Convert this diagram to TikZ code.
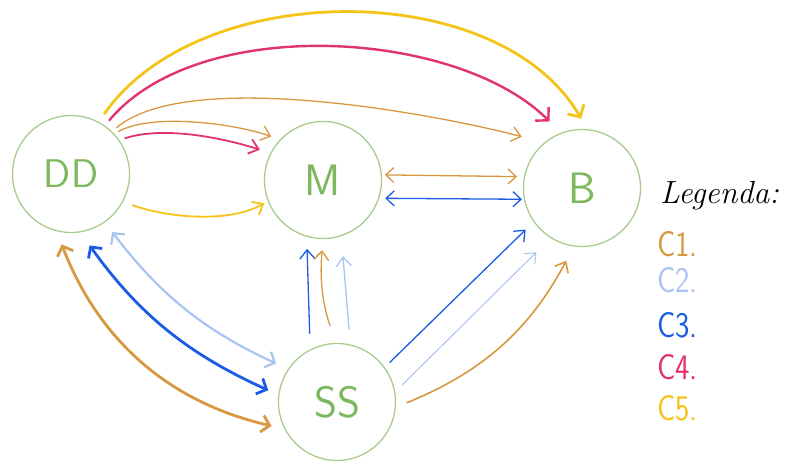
\documentclass[tikz,border=0pt]{standalone}
\usepackage{fontspec}
\usetikzlibrary{arrows.meta}
\definecolor{cgreen}{HTML}{A8CC90}
\definecolor{tgreen}{HTML}{7DB85E}
\definecolor{corange}{HTML}{D7983F}
\definecolor{clblue}{HTML}{A9C4F2}
\definecolor{cblue}{HTML}{1A5CE6}
\definecolor{cpink}{HTML}{E0336F}
\definecolor{cyellow}{HTML}{F4C418}
\tikzset{
  place/.style={circle, draw=cgreen, line width=1.3pt, minimum size=117pt, inner sep=0pt,
     text=tgreen, font=\sffamily\fontsize{44}{44}\selectfont},
  conn/.style={line cap=round, line join=round, line width=1.3pt},
  fat/.style={line cap=round, line join=round, line width=2.8pt},
  tipS/.style={-{Straight Barb[length=9pt,width=15pt]}},
  tipL/.style={-{Straight Barb[length=9pt,width=19pt]}},
  dblS/.style={{Straight Barb[length=8pt,width=15pt]}-{Straight Barb[length=8pt,width=15pt]}},
  dblL/.style={{Straight Barb[length=8pt,width=17pt]}-{Straight Barb[length=8pt,width=17pt]}},
  legtxt/.style={anchor=west, font=\sffamily\fontsize{36}{36}\selectfont, inner sep=0pt, xscale=0.85}
}
\begin{document}
\begin{tikzpicture}[x=1pt,y=1pt]
\useasboundingbox[fill=white] (0,0) rectangle (796,-462);
% places
\node[place, font=\sffamily\fontsize{40}{40}\selectfont] (DD) at (71,-174) {DD};
\node[place] (M) at (323,-180) {M};
\node[place] (B) at (582,-188) {B};
\node[place] (SS) at (337,-402) {SS};

% top arcs from DD
\draw[fat, cyellow, tipL, shorten <=10pt, shorten >=12pt] (DD.62) to[out=55, in=120, looseness=0.92] (B.85);
\draw[fat, cpink, tipL, line width=2.4pt, shorten <=7pt, shorten >=16pt] (DD.55) to[out=50, in=135, looseness=0.82] (B.111);
\draw[conn, corange, tipS, shorten <=6pt, shorten >=23pt] (DD.46) to[out=40, in=165, looseness=0.6] (B.130);
\draw[conn, corange, tipS, shorten <=5pt, shorten >=9pt] (DD.43) to[out=28, in=160, looseness=0.7] (M.137);
\draw[conn, cpink, tipS, line width=1.8pt, shorten <=6pt, shorten >=11pt] (DD.35) to[out=18, in=162, looseness=0.8] (M.153);
\draw[conn, cyellow, tipS, line width=1.8pt, shorten <=10pt, shorten >=4pt] (DD.-28) to[out=-20, in=210, looseness=0.8] (M.201);

% M <-> B
\draw[conn, corange, dblS, shorten <=3pt, shorten >=7pt] (M.5) -- (B.169);
\draw[conn, cblue, dblS, shorten <=6pt, shorten >=2pt] (M.-18) -- (B.191);

% SS -> M
\draw[conn, cblue, tipS, shorten <=16pt, shorten >=12pt] (SS.117) -- (M.254);
\draw[conn, corange, tipS, shorten <=18pt, shorten >=11pt] (SS.91) to[bend left=12] (M.270);
\draw[conn, clblue, tipS, shorten <=15pt, shorten >=20pt] (SS.77) -- (M.288);

% SS -> B
\draw[conn, cblue, tipS, shorten <=7pt, shorten >=11pt] (SS.36) -- (B.215);
\draw[conn, clblue, tipS, line width=1pt, shorten <=10pt, shorten >=20pt] (SS.10) -- (B.238);
\draw[conn, corange, tipS, line width=1.6pt, shorten <=12pt, shorten >=16pt] (SS.-5) to[bend right=20] (B.262);

% DD <-> SS
\draw[fat, clblue, dblL, line width=2.2pt, shorten <=12pt, shorten >=13pt] (DD.-55) to[bend right=14] (SS.146);
\draw[fat, cblue, dblL, shorten <=16pt, shorten >=11pt] (DD.-81) to[bend right=15] (SS.173);
\draw[fat, corange, dblL, shorten <=14pt, shorten >=13pt] (DD.-104) to[bend right=28] (SS.207);

% legend
\node[anchor=west, inner sep=0pt, font=\itshape\fontsize{32}{32}\selectfont] (leg) at (660,-196) {Legenda:};
\node[legtxt, text=corange] (c1) at (657,-244) {C1.};
\node[legtxt, text=clblue] (c2) at (657,-280) {C2.};
\node[legtxt, text=cblue] (c3) at (657,-325) {C3.};
\node[legtxt, text=cpink] (c4) at (657,-367) {C4.};
\node[legtxt, text=cyellow] (c5) at (657,-408) {C5.};
\end{tikzpicture}
\end{document}
